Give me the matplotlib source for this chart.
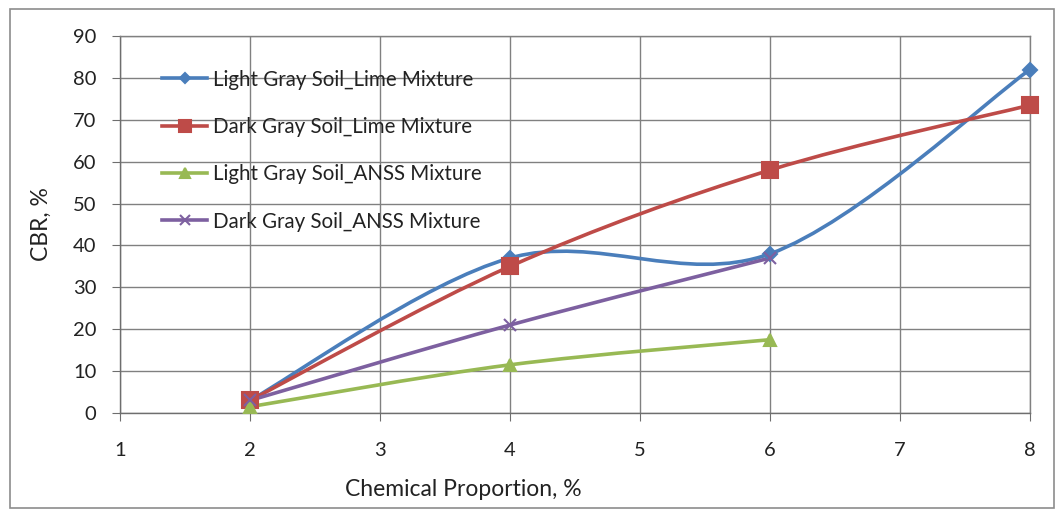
import numpy as np
import matplotlib.pyplot as plt
from matplotlib.path import Path
from matplotlib.patches import PathPatch, Rectangle
from matplotlib.lines import Line2D

plt.rcParams['font.family'] = ['Lato', 'DejaVu Sans']

# data
x_lime = [2, 4, 6, 8]
x_anss = [2, 4, 6]
light_lime = [3, 37, 38, 82]
dark_lime = [3, 35, 58, 73.5]
light_anss = [1.5, 11.5, 17.5]
dark_anss = [3, 21, 37]

labels = ['Light Gray Soil_Lime Mixture', 'Dark Gray Soil_Lime Mixture',
          'Light Gray Soil_ANSS Mixture', 'Dark Gray Soil_ANSS Mixture']
colors = ['#4A7EBB', '#BE4B48', '#98B954', '#7D60A0']
markers = ['D', 's', '^', 'x']
msizes = [7, 11, 9, 9]

def smooth_path(xs, ys):
    # Excel style smoothed line: Catmull-Rom segments as cubic Bezier
    p = np.column_stack([xs, ys]).astype(float)
    verts = [p[0]]
    codes = [Path.MOVETO]
    n = len(p)
    for i in range(n - 1):
        p0 = p[max(i - 1, 0)]
        p1 = p[i]
        p2 = p[i + 1]
        p3 = p[min(i + 2, n - 1)]
        c1 = p1 + (p2 - p0) / 6.0
        c2 = p2 - (p3 - p1) / 6.0
        verts += [c1, c2, p2]
        codes += [Path.CURVE4] * 3
    return Path(verts, codes)

fig = plt.figure(figsize=(10.61, 5.11), dpi=100)
ax = fig.add_axes([0.1131, 0.1918, 0.8577, 0.7377])

fig.patches.append(Rectangle((0.009, 0.006), 0.984, 0.976, transform=fig.transFigure,
                             fill=False, edgecolor='#8c8c8c', linewidth=1.2))

series = [(x_lime, light_lime), (x_lime, dark_lime), (x_anss, light_anss), (x_anss, dark_anss)]
handles = []
for (xs, ys), lab, c, m, ms in zip(series, labels, colors, markers, msizes):
    ax.add_patch(PathPatch(smooth_path(xs, ys), facecolor='none', edgecolor=c,
                           linewidth=2.6, zorder=3, transform=ax.transData))
    ax.plot(xs, ys, linestyle='none', marker=m, color=c, markersize=ms,
            markeredgewidth=1.5, zorder=4, clip_on=False)
    handles.append(Line2D([0], [0], color=c, linewidth=2.6, marker=m,
                          markersize=ms * 0.8, markeredgewidth=1.5))

ax.set_xlim(1, 8)
ax.set_ylim(0, 90)
ax.set_xticks(range(1, 9))
ax.set_yticks(range(0, 91, 10))
ax.grid(True, color='#808080', linewidth=1.0)
ax.set_axisbelow(True)
for s in ax.spines.values():
    s.set_color('#808080')
    s.set_linewidth(1.0)
ax.spines['left'].set_color('#6e6e6e')
ax.spines['bottom'].set_color('#6e6e6e')
ax.tick_params(axis='both', direction='out', length=6, color='#6e6e6e',
               labelsize=14.5, labelcolor='#222222')
ax.tick_params(axis='x', pad=15)
ax.tick_params(axis='y', pad=11)

ax.set_xlabel('Chemical Proportion, %', fontsize=16.5, color='#222222')
ax.xaxis.set_label_coords(0.377, -0.175)
ax.set_ylabel('CBR, %', fontsize=16.5, color='#222222')
ax.yaxis.set_label_coords(-0.075, 0.5)

ax.legend(handles, labels, loc='upper left', bbox_to_anchor=(0.026, 0.96),
          frameon=False, fontsize=14.8, handlelength=2.2, handletextpad=0.25,
          labelspacing=1.33, labelcolor='#222222')

fig.savefig('out.png', dpi=100)
